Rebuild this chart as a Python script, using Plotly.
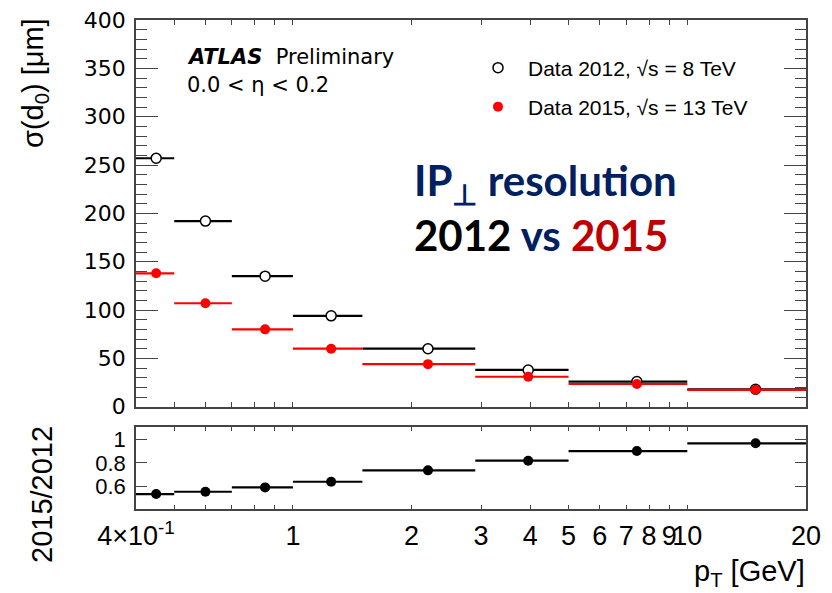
import math
import plotly.graph_objects as go

# ---- data ----
pt_centers = [0.45, 0.6, 0.85, 1.25, 2.2, 3.95, 7.45, 14.9]
bin_edges = [0.4, 0.5, 0.7, 1.0, 1.5, 2.9, 5.0, 10.0, 20.0]
sigma_2012 = [257, 192, 135, 94, 60, 38, 26, 18]
sigma_2015 = [138, 107, 80, 60, 44, 31, 23.5, 17.5]
ratio = [0.534, 0.554, 0.591, 0.639, 0.736, 0.818, 0.90, 0.966]
ratio_err = [0, 0, 0, 0, 0, 0, 0, 0.03]

x_ticks = [0.4, 1, 2, 3, 4, 5, 6, 7, 8, 9, 10, 20]
x_ticktext = ["4×10<sup>-1</sup>", "1", "2", "3", "4", "5", "6", "7", "8", "9", "10", "20"]
x_minor = [0.5, 0.6, 0.7, 0.8, 0.9]
x_long = [1, 10]
ratio_ticks = [0.6, 0.8, 1.0]
ratio_ticktext = ["0.6", "0.8", "1"]

W, H = 832, 593
L, R, T, B = 136, 26, 20, 84          # plot-area margins in pixels
PW, PH = W - L - R, H - T - B
FONT = "Liberation Sans, Arial, Helvetica, sans-serif"
DJ = "DejaVu Sans, sans-serif"
AX = "#444444"

err_plus = [hi - c for c, hi in zip(pt_centers, bin_edges[1:])]
err_minus = [c - lo for c, lo in zip(pt_centers, bin_edges[:-1])]

def px(xp):
    return (xp - L) / PW

def py(yp):
    return (H - B - yp) / PH

y_top_dom = [py(406.7), 1.0]
y_bot_dom = [0.0, py(427)]

fig = go.Figure()

fig.add_trace(go.Scatter(
    x=pt_centers, y=sigma_2012, mode="markers", name="Data 2012, √s = 8 TeV",
    marker=dict(symbol="circle", size=10, color="white", line=dict(color="black", width=1.5)),
    error_x=dict(type="data", symmetric=False, array=err_plus, arrayminus=err_minus,
                 color="black", thickness=2.2, width=0),
    xaxis="x", yaxis="y", legend="legend",
))
fig.add_trace(go.Scatter(
    x=pt_centers, y=sigma_2015, mode="markers", name="Data 2015, √s = 13 TeV",
    marker=dict(symbol="circle", size=10, color="red", line=dict(color="red", width=0)),
    error_x=dict(type="data", symmetric=False, array=err_plus, arrayminus=err_minus,
                 color="red", thickness=2.2, width=0),
    xaxis="x", yaxis="y", legend="legend2",
))
fig.add_trace(go.Scatter(
    x=pt_centers, y=ratio, mode="markers", showlegend=False,
    marker=dict(symbol="circle", size=10, color="black"),
    error_x=dict(type="data", symmetric=False, array=err_plus, arrayminus=err_minus,
                 color="black", thickness=2.2, width=0),
    error_y=dict(type="data", array=ratio_err, color="black", thickness=2, width=0),
    xaxis="x2", yaxis="y2",
))

xr = [math.log10(0.4) - 1e-6, math.log10(20) + 1e-6]

common_x = dict(type="log", range=xr, showline=True, linecolor=AX, linewidth=1.5,
                mirror="ticks", ticks="inside", tickcolor=AX, showgrid=False,
                zeroline=False, domain=[0, 1], automargin=False, tickangle=0)

fig.update_layout(
    width=W, height=H,
    margin=dict(l=L, r=R, t=T, b=B, autoexpand=False),
    paper_bgcolor="white", plot_bgcolor="white",
    font=dict(family=FONT, color="black"),
    xaxis=dict(**common_x, anchor="y", tickmode="array", tickvals=x_ticks,
               showticklabels=False, ticklen=5, tickwidth=1,
               minor=dict(tickmode="array", tickvals=x_minor, ticks="inside", ticklen=5, tickcolor=AX)),
    xaxis2=dict(**common_x, anchor="y2", tickmode="array", tickvals=x_ticks, ticktext=x_ticktext,
                showticklabels=True, ticklen=4, tickwidth=1, ticklabelstandoff=2,
                tickfont=dict(size=27, family=FONT, color="black"),
                minor=dict(tickmode="array", tickvals=x_minor, ticks="inside", ticklen=4, tickcolor=AX)),
    xaxis3=dict(type="log", range=xr, overlaying="x", anchor="y", domain=[0, 1], automargin=False,
                tickmode="array", tickvals=x_long, ticks="inside", ticklen=10, tickcolor=AX,
                mirror="ticks", showline=False, showticklabels=False, showgrid=False, zeroline=False),
    xaxis4=dict(type="log", range=xr, overlaying="x2", anchor="y2", domain=[0, 1], automargin=False,
                tickmode="array", tickvals=x_long, ticks="inside", ticklen=7, tickcolor=AX,
                mirror="ticks", showline=False, showticklabels=False, showgrid=False, zeroline=False),
    yaxis=dict(domain=y_top_dom, anchor="x", range=[0, 400], tickmode="linear", tick0=0, dtick=50,
               showline=True, linecolor=AX, linewidth=1.5, mirror="ticks", ticks="inside",
               ticklen=22, tickcolor=AX, showgrid=False, zeroline=False, automargin=False,
               ticklabelstandoff=4,
               tickfont=dict(size=22, family=DJ, color="black"),
               minor=dict(dtick=10, ticks="inside", ticklen=11, tickcolor=AX)),
    yaxis2=dict(domain=y_bot_dom, anchor="x2", range=[0.407, 1.105], tickmode="array",
                tickvals=ratio_ticks, ticktext=ratio_ticktext,
                showline=True, linecolor=AX, linewidth=1.5, mirror="ticks", ticks="inside",
                ticklen=11, tickcolor=AX, showgrid=False, zeroline=False, automargin=False,
                ticklabelstandoff=4,
                tickfont=dict(size=22, family=FONT, color="black")),
    legend=dict(x=px(468), y=py(68), xanchor="left", yanchor="middle", bgcolor="rgba(0,0,0,0)",
                font=dict(size=21, family=FONT, color="black"), itemwidth=50),
    legend2=dict(x=px(468), y=py(107), xanchor="left", yanchor="middle", bgcolor="rgba(0,0,0,0)",
                 font=dict(size=21, family=FONT, color="black"), itemwidth=50),
)

ann = [
    dict(x=px(185), y=py(57), text="<b><i>ATLAS</i></b>  Preliminary", size=21, family=DJ, color="black"),
    dict(x=px(185), y=py(85), text="0.0 < η < 0.2", size=21, family=DJ, color="black"),
    dict(x=px(412), y=py(207),
         text="<b>IP<sub>⊥</sub> resolution</b><br><b><span style='color:black'>2012</span> vs "
              "<span style='color:#C00000'>2015</span></b>",
         size=42, family="Lato, Open Sans, sans-serif", color="#002060"),
]
for a in ann:
    fig.add_annotation(xref="paper", yref="paper", xanchor="left", yanchor="middle", align="left",
                       showarrow=False, x=a["x"], y=a["y"], text=a["text"],
                       font=dict(family=a["family"], size=a["size"], color=a["color"]))

fig.add_annotation(xref="paper", yref="paper", x=px(35), y=py(83), text="σ(d<sub>0</sub>) [μm]",
                   textangle=-90, showarrow=False, xanchor="center", yanchor="middle",
                   font=dict(family=FONT, size=29, color="black"))
fig.add_annotation(xref="paper", yref="paper", x=px(42), y=py(495), text="2015/2012",
                   textangle=-90, showarrow=False, xanchor="center", yanchor="middle",
                   font=dict(family=FONT, size=29, color="black"))
fig.add_annotation(xref="paper", yref="paper", x=px(807), y=py(573), text="p<sub>T</sub> [GeV]",
                   showarrow=False, xanchor="right", yanchor="middle",
                   font=dict(family=FONT, size=29, color="black"))

fig.write_html("out.html", config={"displayModeBar": False},
               post_script="document.body.style.margin='0';document.body.style.overflow='hidden';")
